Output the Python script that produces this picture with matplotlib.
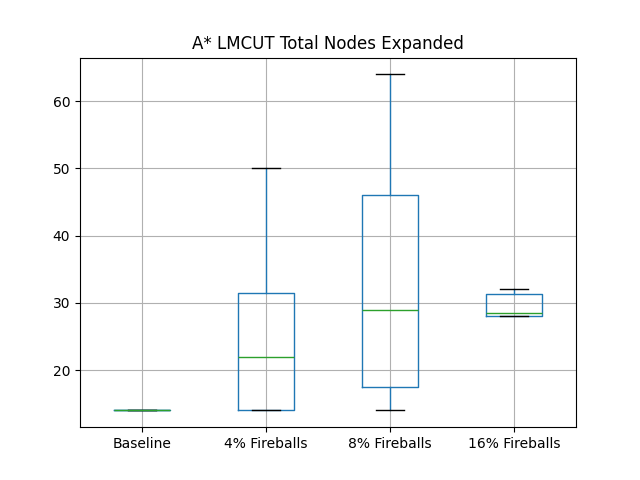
import matplotlib
matplotlib.use('Agg')
import matplotlib.pyplot as plt
import pandas as pd

# nodes expanded per run
baseline = [14, 14, 14, 14, 14, 14]
fireballs_4 = [14, 14, 14, 30, 32, 50]
fireballs_8 = [14, 16, 19, 29, 44, 48, 64]
fireballs_16 = [28, 28, 28, 29, 32, 32]

labels = ["Baseline", "4% Fireballs", "8% Fireballs", "16% Fireballs"]

df = pd.DataFrame({
    labels[0]: pd.Series(baseline),
    labels[1]: pd.Series(fireballs_4),
    labels[2]: pd.Series(fireballs_8),
    labels[3]: pd.Series(fireballs_16),
})

fig, ax = plt.subplots(figsize=(6.4, 4.8), dpi=100)
df.boxplot(ax=ax)
ax.set_title("A* LMCUT Total Nodes Expanded")

fig.savefig("out.png")
